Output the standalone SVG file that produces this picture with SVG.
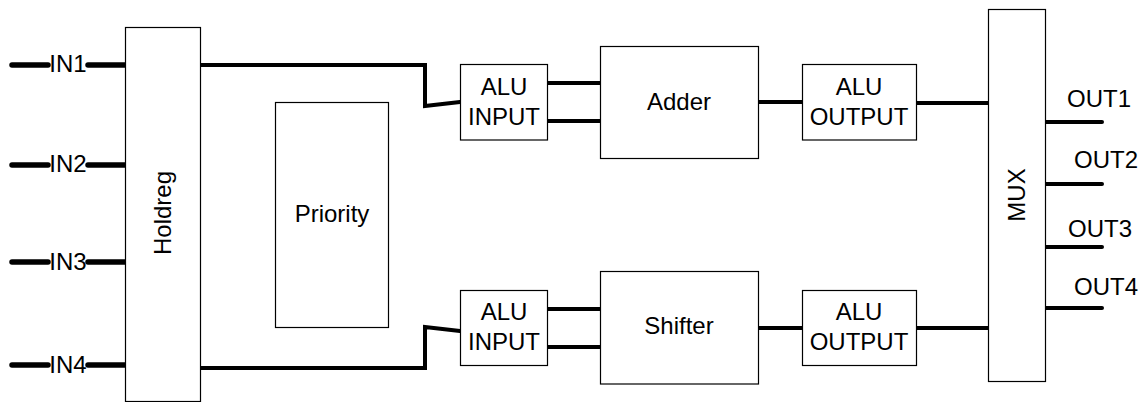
<svg xmlns="http://www.w3.org/2000/svg" width="1143" height="402" viewBox="0 0 1143 402">
<style>
.box{fill:#fff;stroke:#000;stroke-width:1.2}
.t{font-family:"Liberation Sans",Arial,sans-serif;font-size:24px;fill:#000}
.m{text-anchor:middle}
.w{fill:none;stroke:#000;stroke-width:4;stroke-linecap:round;stroke-linejoin:miter}
.wi{fill:none;stroke:#000;stroke-width:5.5;stroke-linecap:round}
</style>
<rect width="1143" height="402" fill="#fff"/>
<g id="connectors">
<line class="wi" x1="12" y1="65" x2="48" y2="65"/><line class="wi" x1="88" y1="65" x2="126" y2="65"/>
<line class="wi" x1="12" y1="165" x2="48" y2="165"/><line class="wi" x1="88" y1="165" x2="126" y2="165"/>
<line class="wi" x1="12" y1="262" x2="48" y2="262"/><line class="wi" x1="88" y1="262" x2="126" y2="262"/>
<line class="wi" x1="12" y1="365" x2="48" y2="365"/><line class="wi" x1="88" y1="365" x2="126" y2="365"/>
<polyline class="w" points="200,65 425,65 425,106 460,102"/>
<polyline class="w" points="200,368 425,368 425,327 460,331"/>
<line class="w" x1="547" y1="83" x2="601" y2="83"/>
<line class="w" x1="547" y1="121" x2="601" y2="121"/>
<line class="w" x1="547" y1="309" x2="601" y2="309"/>
<line class="w" x1="547" y1="347" x2="601" y2="347"/>
<line class="w" x1="758" y1="102" x2="802" y2="102"/>
<line class="w" x1="758" y1="328" x2="802" y2="328"/>
<line class="w" x1="916" y1="103" x2="988" y2="103"/>
<line class="w" x1="916" y1="328" x2="988" y2="328"/>
<line class="w" x1="1045" y1="122" x2="1102" y2="122"/>
<line class="w" x1="1045" y1="184" x2="1102" y2="184"/>
<line class="w" x1="1045" y1="247" x2="1102" y2="247"/>
<line class="w" x1="1045" y1="308" x2="1102" y2="308"/>
</g>
<g id="inputs">
<text class="t m" x="68" y="72">IN1</text>
<text class="t m" x="68" y="172">IN2</text>
<text class="t m" x="68" y="270">IN3</text>
<text class="t m" x="68" y="373">IN4</text>
</g>
<g id="holdreg">
<rect class="box" x="125.5" y="27.5" width="75" height="374"/>
<text class="t m" transform="translate(171,213) rotate(-90)">Holdreg</text>
</g>
<g id="priority">
<rect class="box" x="275.5" y="102.5" width="113" height="225"/>
<text class="t m" x="332" y="222">Priority</text>
</g>
<g id="alu-input-top">
<rect class="box" x="460.5" y="64.5" width="87" height="75.5"/>
<text class="t m" x="504" y="95">ALU</text>
<text class="t m" x="504" y="125">INPUT</text>
</g>
<g id="adder">
<rect class="box" x="600.5" y="46.5" width="158" height="112"/>
<text class="t m" x="679" y="110">Adder</text>
</g>
<g id="alu-output-top">
<rect class="box" x="802.5" y="64.5" width="114" height="75.5"/>
<text class="t m" x="859" y="95">ALU</text>
<text class="t m" x="859" y="125">OUTPUT</text>
</g>
<g id="alu-input-bottom">
<rect class="box" x="460.5" y="290.5" width="87" height="75"/>
<text class="t m" x="504" y="320">ALU</text>
<text class="t m" x="504" y="350">INPUT</text>
</g>
<g id="shifter">
<rect class="box" x="600.5" y="271.5" width="158" height="112.5"/>
<text class="t m" x="679" y="334">Shifter</text>
</g>
<g id="alu-output-bottom">
<rect class="box" x="802.5" y="290.5" width="114" height="75"/>
<text class="t m" x="859" y="320">ALU</text>
<text class="t m" x="859" y="350">OUTPUT</text>
</g>
<g id="mux">
<rect class="box" x="988.5" y="9.5" width="57" height="372"/>
<text class="t m" transform="translate(1025,195) rotate(-90)">MUX</text>
</g>
<g id="outputs">
<text class="t" x="1067" y="107">OUT1</text>
<text class="t" x="1074" y="168">OUT2</text>
<text class="t" x="1068" y="237">OUT3</text>
<text class="t" x="1074" y="295">OUT4</text>
</g>
</svg>
